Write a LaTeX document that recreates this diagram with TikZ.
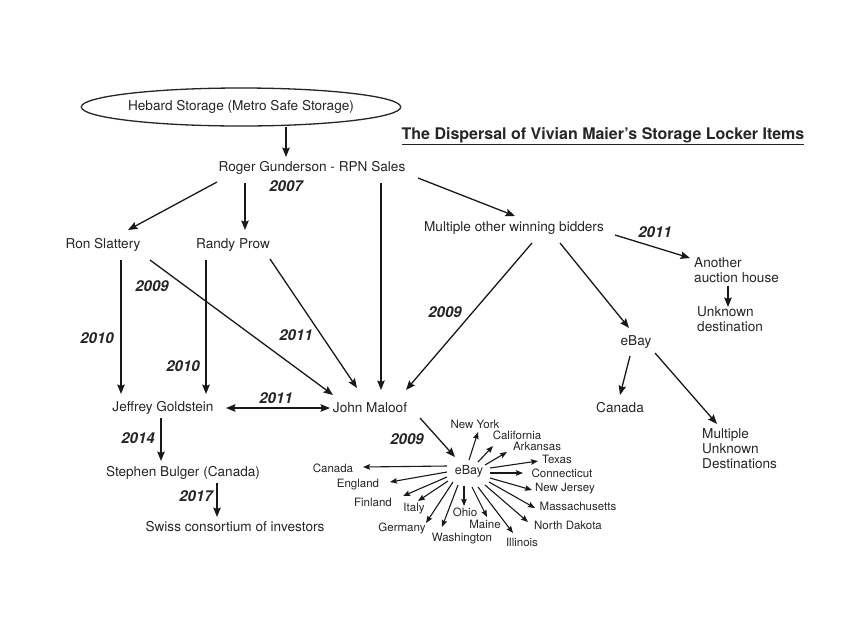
\documentclass[tikz,border=0pt]{standalone}
\usepackage{fontspec}
\setmainfont{TeX Gyre Heros}
\usetikzlibrary{arrows.meta,shapes.geometric}
\tikzset{
  lbl/.style={inner sep=0pt, font=\fontsize{13.6}{15}\selectfont, text=black!85},
  small/.style={inner sep=0pt, font=\fontsize{11.5}{13}\selectfont, text=black!85},
  yr/.style={inner sep=0pt, font=\fontsize{15}{16}\selectfont\bfseries\itshape, text=black!85},
  arr/.style={draw=black!90, line width=1.3pt, -{Stealth[length=9.5pt,width=7.5pt,inset=1.5pt]}},
  sarr/.style={draw=black!90, line width=1.1pt, -{Stealth[length=7pt,width=5.5pt,inset=1pt]}},
}
\begin{document}
\begin{tikzpicture}[x=1pt,y=-1pt]
\useasboundingbox (0,0) rectangle (854,630);
\fill[white] (0,0) rectangle (854,630);
% main nodes
\node[ellipse, draw=black!85, line width=1.3pt, minimum width=293pt, minimum height=38pt, lbl] (heb) at (241,107) {Hebard Storage (Metro Safe Storage)};
\node[lbl] (roger) at (312,168) {Roger Gunderson - RPN Sales};
\node[inner sep=0pt, font=\fontsize{16}{18}\selectfont\bfseries, text=black!85] (title) at (603,136) {\underline{The Dispersal of Vivian Maier’s Storage Locker Items}};
\node[lbl] (ron) at (103,245) {Ron Slattery};
\node[lbl] (randy) at (233,245) {Randy Prow};
\node[lbl] (multi) at (514,228) {Multiple other winning bidders};
\node[lbl, anchor=west, align=left] (another) at (694,270) {Another\\auction house};
\node[lbl, anchor=west, align=left] (unknown) at (697,319) {Unknown\\destination};
\node[lbl] (ebayR) at (636,342) {eBay};
\node[lbl] (canR) at (620,408) {Canada};
\node[lbl, anchor=west, align=left] (mud) at (702,449) {Multiple\\Unknown\\Destinations};
\node[lbl] (jeff) at (163,408) {Jeffrey Goldstein};
\node[lbl] (john) at (370,408) {John Maloof};
\node[lbl] (steph) at (183,473) {Stephen Bulger (Canada)};
\node[lbl] (swiss) at (235,527) {Swiss consortium of investors};
\node[small, font=\fontsize{12.5}{14}\selectfont] (ebay) at (469,471) {eBay};
% years
\node[yr] (y1) at (286,186) {2007};
\node[yr] (y2) at (655,232) {2011};
\node[yr] (y3) at (445,312) {2009};
\node[yr] (y4) at (97,338) {2010};
\node[yr] (y5) at (152,286) {2009};
\node[yr] (y6) at (183,366) {2010};
\node[yr] (y7) at (296,335) {2011};
\node[yr] (y8) at (276,398) {2011};
\node[yr] (y9) at (138,438) {2014};
\node[yr] (y10) at (196,496) {2017};
\node[yr] (y11) at (407,439) {2009};
% main arrows
\draw[arr] ([shift={(45,20)}]heb.center) -- ([shift={(-26,-11)}]roger.center);
\draw[arr] ([shift={(-95,14)}]roger.center) -- ([shift={(25,-15)}]ron.center);
\draw[arr] ([shift={(-67,15)}]roger.center) -- ([shift={(12,-15)}]randy.center);
\draw[arr] ([shift={(69,15)}]roger.center) -- ([shift={(11,-18)}]john.center);
\draw[arr] ([shift={(106,10)}]roger.center) -- ([shift={(1,-12)}]multi.center);
\draw[arr] ([shift={(18,15)}]multi.center) -- ([shift={(36,-18)}]john.center);
\draw[arr] ([shift={(46,15)}]multi.center) -- ([shift={(-7,-14)}]ebayR.center);
\draw[arr] ([shift={(101,7)}]multi.center) -- ([shift={(-4,-12)}]another.west);
\draw[arr] ([shift={(34,16)}]another.west) -- ([shift={(31,-12)}]unknown.west);
\draw[arr] ([shift={(-6,14)}]ebayR.center) -- ([shift={(0,-13)}]canR.center);
\draw[arr] ([shift={(19,11)}]ebayR.center) -- ([shift={(15,-25)}]mud.west);
\draw[arr] ([shift={(18,15)}]ron.center) -- ([shift={(-42,-14)}]jeff.center);
\draw[arr] ([shift={(47,15)}]ron.center) -- ([shift={(-37,-13)}]john.center);
\draw[arr] ([shift={(-27,15)}]randy.center) -- ([shift={(43,-14)}]jeff.center);
\draw[arr] ([shift={(37,14)}]randy.center) -- ([shift={(-13,-20)}]john.center);
\draw[arr, {Stealth[length=9.5pt,width=7.5pt,inset=1.5pt]}-{Stealth[length=9.5pt,width=7.5pt,inset=1.5pt]}] ([shift={(63,0)}]jeff.center) -- ([shift={(-40,0)}]john.center);
\draw[arr] ([shift={(-2,10)}]jeff.center) -- ([shift={(-22,-12)}]steph.center);
\draw[arr] ([shift={(34,10)}]steph.center) -- ([shift={(-18,-10)}]swiss.center);
\draw[arr] ([shift={(50,10)}]john.center) -- ([shift={(-14,-14)}]ebay.center);
% star destinations
\node[small] (ny) at (475,424) {New York};
\node[small] (cal) at (517,435) {California};
\node[small] (ark) at (537,446) {Arkansas};
\node[small] (tex) at (557,459) {Texas};
\node[small] (con) at (562,473) {Connecticut};
\node[small] (nj) at (565,489) {New Jersey};
\node[small] (mas) at (578,506) {Massachusetts};
\node[small] (nd) at (568,525) {North Dakota};
\node[small] (ill) at (522,542) {Illinois};
\node[small] (mai) at (485,524) {Maine};
\node[small] (ohio) at (465,512) {Ohio};
\node[small] (was) at (462,539) {Washington};
\node[small] (ger) at (402,528) {Germany};
\node[small] (ita) at (414,509) {Italy};
\node[small] (fin) at (373,502) {Finland};
\node[small] (eng) at (358,485) {England};
\node[small] (can) at (333,468) {Canada};
\draw[sarr] ([shift={(0,-11)}]ebay.center) -- ([shift={(3,8)}]ny.center);
\draw[sarr] ([shift={(9,-9)}]ebay.center) -- ([shift={(-24,11)}]cal.center);
\draw[sarr] ([shift={(16,-6)}]ebay.center) -- ([shift={(-30,6)}]ark.center);
\draw[sarr] ([shift={(21,-3)}]ebay.center) -- ([shift={(-19,2)}]tex.center);
\draw[sarr] ([shift={(21,2)}]ebay.center) -- ([shift={(-39,0)}]con.center);
\draw[sarr] ([shift={(21,7)}]ebay.center) -- ([shift={(-33,1)}]nj.center);
\draw[sarr] ([shift={(20,11)}]ebay.center) -- ([shift={(-43,2)}]mas.center);
\draw[sarr] ([shift={(16,14)}]ebay.center) -- ([shift={(-40,-3)}]nd.center);
\draw[sarr] ([shift={(9,16)}]ebay.center) -- ([shift={(-9,-9)}]ill.center);
\draw[sarr] ([shift={(3,16)}]ebay.center) -- ([shift={(2,-7)}]mai.center);
\draw[sarr] ([shift={(-5,15)}]ebay.center) -- ([shift={(-1,-6)}]ohio.center);
\draw[sarr] ([shift={(-11,14)}]ebay.center) -- ([shift={(-20,-12)}]was.center);
\draw[sarr] ([shift={(-16,11)}]ebay.center) -- ([shift={(24,-5)}]ger.center);
\draw[sarr] ([shift={(-21,10)}]ebay.center) -- ([shift={(4,-8)}]ita.center);
\draw[sarr] ([shift={(-22,6)}]ebay.center) -- ([shift={(30,-6)}]fin.center);
\draw[sarr] ([shift={(-22,1)}]ebay.center) -- ([shift={(32,-3)}]eng.center);
\draw[sarr] ([shift={(-22,-5)}]ebay.center) -- ([shift={(30,-1)}]can.center);
\end{tikzpicture}
\end{document}
